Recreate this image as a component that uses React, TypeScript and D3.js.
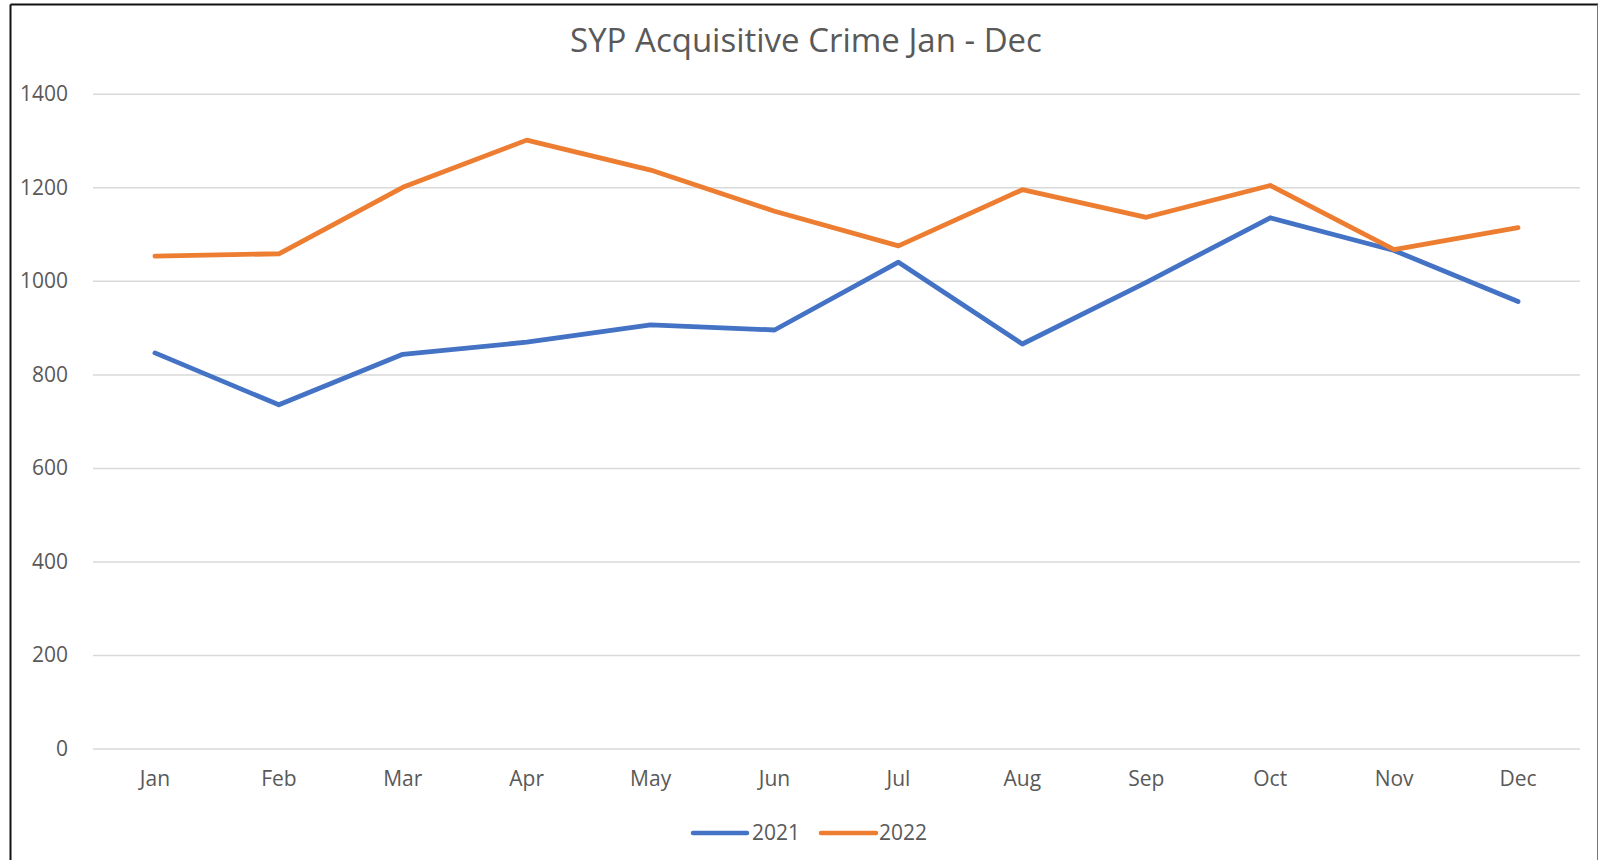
import React from "react";
import * as d3 from "d3";

const months = ["Jan", "Feb", "Mar", "Apr", "May", "Jun", "Jul", "Aug", "Sep", "Oct", "Nov", "Dec"];
const values2021 = [847, 736, 844, 870, 907, 896, 1041, 866, 998, 1136, 1066, 957];
const values2022 = [1054, 1059, 1201, 1302, 1238, 1150, 1076, 1196, 1137, 1205, 1068, 1115];
const yTicks = [0, 200, 400, 600, 800, 1000, 1200, 1400];
const seriesNames = ["2021", "2022"];
const seriesColors = ["#4472C4", "#ED7D31"];
const title = "SYP Acquisitive Crime Jan - Dec";

const W = 1598;
const H = 860;
const FONT = "'Open Sans', sans-serif";
const TEXT = "#595959";

export default function App() {
  const x = d3.scaleBand<string>().domain(months).range([93, 1580]);
  const y = d3.scaleLinear().domain([0, 1400]).range([749, 94.3]);
  const cx = (m: string) => (x(m) as number) + x.bandwidth() / 2;
  const line = d3
    .line<number>()
    .x((_, i) => cx(months[i]))
    .y((v) => y(v));
  const series = [values2021, values2022];

  const legendItems = [
    { x1: 693, x2: 747, tx: 752 },
    { x1: 821, x2: 876, tx: 879 },
  ];

  return (
    <svg
      width={W}
      height={H}
      style={{ position: "absolute", left: 0, top: 0, background: "#fff" }}
    >
      <rect x={0} y={0} width={W} height={H} fill="#fff" />
      {/* frame */}
      <line x1={10.5} y1={4.5} x2={1598} y2={4.5} stroke="#111" strokeWidth={2} />
      <line x1={10.5} y1={4.5} x2={10.5} y2={H} stroke="#111" strokeWidth={2} />
      <line x1={1597.5} y1={4.5} x2={1597.5} y2={H} stroke="#777" strokeWidth={1} />

      <text
        x={806}
        y={39}
        textAnchor="middle"
        dominantBaseline="central"
        fontFamily={FONT}
        fontSize={33}
        fill={TEXT}
      >
        {title}
      </text>

      {yTicks.map((t) => (
        <g key={t}>
          <line x1={93} x2={1580} y1={y(t)} y2={y(t)} stroke="#D9D9D9" strokeWidth={1.5} />
          <text
            x={68}
            y={y(t) - 1}
            textAnchor="end"
            dominantBaseline="central"
            fontFamily={FONT}
            fontSize={21}
            fill={TEXT}
          >
            {t}
          </text>
        </g>
      ))}

      {months.map((m) => (
        <text
          key={m}
          x={cx(m)}
          y={778}
          textAnchor="middle"
          dominantBaseline="central"
          fontFamily={FONT}
          fontSize={21}
          fill={TEXT}
        >
          {m}
        </text>
      ))}

      {series.map((s, i) => (
        <path
          key={i}
          d={line(s) || ""}
          fill="none"
          stroke={seriesColors[i]}
          strokeWidth={4.8}
          strokeLinejoin="round"
          strokeLinecap="round"
        />
      ))}

      {seriesNames.map((n, i) => (
        <g key={n}>
          <line
            x1={legendItems[i].x1}
            x2={legendItems[i].x2}
            y1={833}
            y2={833}
            stroke={seriesColors[i]}
            strokeWidth={4.5}
            strokeLinecap="round"
          />
          <text
            x={legendItems[i].tx}
            y={832}
            dominantBaseline="central"
            fontFamily={FONT}
            fontSize={21}
            fill={TEXT}
          >
            {n}
          </text>
        </g>
      ))}
    </svg>
  );
}
